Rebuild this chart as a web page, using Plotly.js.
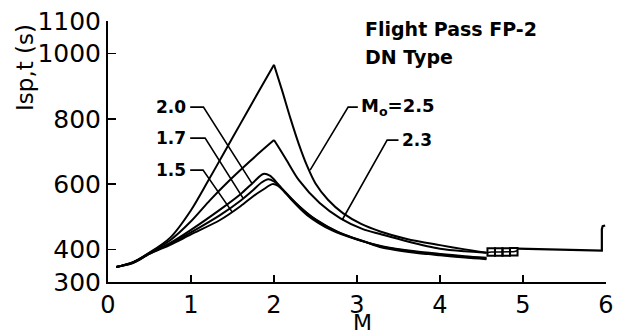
<!DOCTYPE html>
<html>
<head>
<meta charset="utf-8">
<script src="https://cdn.plot.ly/plotly-3.0.1.min.js"></script>
<style>html,body{margin:0;padding:0;background:#fff;}#chart{width:629px;height:336px;}</style>
</head>
<body>
<div id="chart"></div>
<script>
// Mo = 2.5
const mach25 = [0.1, 0.3, 0.5, 0.75, 1.0, 1.2, 1.4, 1.6, 1.8, 2.0, 2.1, 2.2, 2.3, 2.4, 2.5, 2.65, 2.83, 3.05, 3.28, 3.6, 4.0, 4.3, 4.56];
const isp25  = [346, 361, 390, 436, 520, 607, 697, 787, 877, 966, 885, 800, 722, 655, 602, 552, 511, 478, 455, 432, 413, 400, 390];
// Mo = 2.3
const mach23 = [0.1, 0.3, 0.5, 0.75, 1.0, 1.23, 1.45, 1.71, 1.85, 2.0, 2.08, 2.15, 2.3, 2.55, 2.8, 3.07, 3.28, 3.6, 4.0, 4.3, 4.56];
const isp23  = [346, 360, 389, 428, 486, 551, 608, 670, 702, 735, 703, 674, 612, 542, 495, 462, 447, 425, 402, 394, 390];
// Mo = 2.0
const mach20 = [0.1, 0.3, 0.5, 0.75, 1.0, 1.35, 1.6, 1.75, 1.87, 1.95, 2.05, 2.2, 2.4, 2.7, 3.0, 3.3, 3.7, 4.0, 4.3, 4.56];
const isp20  = [346, 360, 388, 420, 460, 522, 570, 605, 631, 626, 600, 555, 505, 458, 430, 410, 394, 386, 379, 374];
// Mo = 1.7
const mach17 = [0.1, 0.3, 0.5, 0.75, 1.0, 1.35, 1.6, 1.75, 1.85, 1.93, 2.0, 2.1, 2.25, 2.45, 2.75, 3.05, 3.3, 3.7, 4.0, 4.3, 4.56];
const isp17  = [346, 359, 387, 417, 452, 505, 550, 582, 605, 615, 608, 585, 545, 500, 455, 427, 408, 392, 384, 377, 372];
// Mo = 1.5
const mach15 = [0.1, 0.3, 0.5, 0.75, 1.0, 1.35, 1.6, 1.75, 1.88, 1.98, 2.05, 2.15, 2.3, 2.5, 2.8, 3.1, 3.3, 3.7, 4.0, 4.3, 4.56];
const isp15  = [346, 358, 386, 414, 446, 490, 533, 563, 585, 600, 595, 570, 532, 492, 450, 423, 406, 390, 382, 375, 370];
// common tail beyond M = 4.56
const machBox = [4.56, 4.617, 4.708, 4.798, 4.889, 4.93];
const ispBox  = [390, 392, 392, 392, 393, 396];
const machTail = [4.93, 5.95, 5.95, 5.96, 5.99];
const ispTail  = [402, 396, 462, 471, 473];

const xTicks = [0, 1, 2, 3, 4, 5, 6];
const yTicks = [300, 400, 600, 800, 1000, 1100];
const curveLabels = ["2.0", "1.7", "1.5"];

function peakSplit(xs, ys) {
  let k = 0;
  ys.forEach((v, i) => { if (v > ys[k]) k = i; });
  return [[xs.slice(0, k + 1), ys.slice(0, k + 1)], [xs.slice(k), ys.slice(k)]];
}
const traces = [];
[[mach25, isp25], [mach23, isp23]].forEach(([xs, ys]) => {
  peakSplit(xs, ys).forEach(([px, py]) => {
    traces.push({x: px, y: py, mode: "lines", line: {color: "#000", width: 2, shape: "spline", smoothing: 0.8}});
  });
});
[[mach20, isp20], [mach17, isp17], [mach15, isp15]].forEach(([xs, ys]) => {
  traces.push({x: xs, y: ys, mode: "lines", line: {color: "#000", width: 2, shape: "spline", smoothing: 0.8}});
});
traces.push({x: machBox, y: ispBox, mode: "lines+markers", line: {color: "#000", width: 1.5},
  marker: {symbol: "square-open", size: 7.5, color: "#000", line: {width: 2, color: "#000"},
           opacity: machBox.map((m, i) => (i === 0 || i === machBox.length - 1) ? 0 : 1)}});
traces.push({x: machTail, y: ispTail, mode: "lines", line: {color: "#000", width: 2.2}});

const F = "DejaVu Sans";
const lblFont = {family: F, size: 17, color: "#000", weight: "bold"};
const annotations = [
  {x: 0.964, y: 836, xref: "x", yref: "y", text: curveLabels[0], showarrow: false, xanchor: "right", yanchor: "middle", font: lblFont},
  {x: 0.964, y: 741, xref: "x", yref: "y", text: curveLabels[1], showarrow: false, xanchor: "right", yanchor: "middle", font: lblFont},
  {x: 0.964, y: 643, xref: "x", yref: "y", text: curveLabels[2], showarrow: false, xanchor: "right", yanchor: "middle", font: lblFont},
  {x: 3.02, y: 836, xref: "x", yref: "y", text: "M<sub>o</sub>=2.5", showarrow: false, xanchor: "left", yanchor: "middle", font: {family: F, size: 18, color: "#000", weight: "bold"}},
  {x: 3.52, y: 735, xref: "x", yref: "y", text: "2.3", showarrow: false, xanchor: "left", yanchor: "middle", font: lblFont},
  {x: 3.074, y: 1076, xref: "x", yref: "y", text: "Flight Pass FP-2", showarrow: false, xanchor: "left", yanchor: "middle", font: {family: F, size: 19, color: "#000", weight: "bold"}},
  {x: 3.074, y: 990, xref: "x", yref: "y", text: "DN Type", showarrow: false, xanchor: "left", yanchor: "middle", font: {family: F, size: 19, color: "#000", weight: "bold"}},
  {x: -0.1667, y: 0.824, xref: "paper", yref: "paper", text: "Isp,t (s)", textangle: -90, showarrow: false, xanchor: "center", yanchor: "middle", font: {family: F, size: 23, color: "#000"}},
  {x: 0.512, y: -0.2069, xref: "paper", yref: "paper", text: "M", showarrow: false, xanchor: "center", yanchor: "bottom", borderpad: 0, font: {family: F, size: 22, color: "#000"}}
];
const sl = {color: "#000", width: 1.6};
const shapes = [
  {type: "path", xref: "x", yref: "y", path: "M 0.99 836 L 1.15 836 L 1.74 600", line: sl},
  {type: "path", xref: "x", yref: "y", path: "M 0.99 741 L 1.17 741 L 1.627 557", line: sl},
  {type: "path", xref: "x", yref: "y", path: "M 0.99 643 L 1.145 643 L 1.495 515", line: sl},
  {type: "path", xref: "x", yref: "y", path: "M 3.01 836 L 2.893 836 L 2.435 643", line: sl},
  {type: "path", xref: "x", yref: "y", path: "M 3.50 735 L 3.363 735 L 2.821 490", line: sl}
];

const layout = {
  width: 629, height: 336,
  margin: {l: 108, r: 23, t: 21, b: 54},
  paper_bgcolor: "#fff", plot_bgcolor: "#fff",
  showlegend: false,
  xaxis: {range: [0, 6], tickvals: xTicks, ticktext: xTicks.map(String), ticks: "inside", ticklen: 7, tickwidth: 1.5,
          tickcolor: "#000", showline: true, linecolor: "#000", linewidth: 2, showgrid: false, zeroline: false,
          tickfont: {family: F, size: 24, color: "#000"}},
  yaxis: {range: [300, 1100], tickvals: yTicks, ticktext: yTicks.map(String), ticks: "inside", ticklen: 8, tickwidth: 1.5,
          tickcolor: "#000", showline: true, linecolor: "#000", linewidth: 2, showgrid: false, zeroline: false,
          tickfont: {family: F, size: 25, color: "#000"}},
  annotations: annotations,
  shapes: shapes
};
Plotly.newPlot("chart", traces, layout, {displayModeBar: false, staticPlot: true});
</script>
</body>
</html>
